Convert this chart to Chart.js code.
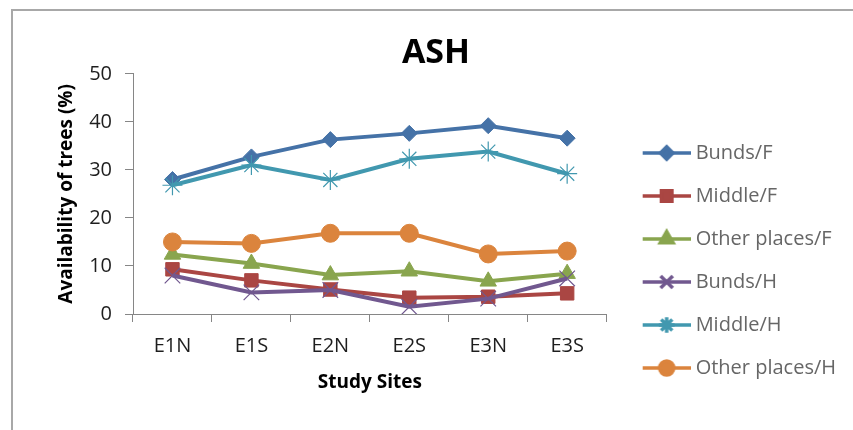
<!DOCTYPE html>
<html>
<head>
<meta charset="utf-8">
<script src="https://cdn.jsdelivr.net/npm/chart.js@4/dist/chart.umd.min.js"></script>
<style>
  html, body { margin: 0; padding: 0; background: #ffffff; overflow: hidden; }
  #wrap { position: relative; width: 853px; height: 430px; overflow: hidden; }
  #frame { position: absolute; left: 11px; top: 9px; width: 900px; height: 500px;
           border-left: 2px solid #a8a8a8; border-top: 2px solid #a8a8a8; }
  #chart { position: absolute; left: 0; top: 0; }
</style>
</head>
<body>
<div id="wrap">
  <div id="frame"></div>
  <canvas id="chart" width="853" height="430"></canvas>
</div>
<script>
// Study sites along the x axis
const sites = ['E1N', 'E1S', 'E2N', 'E2S', 'E3N', 'E3S'];

// Availability of trees (%) per site
const bundsF       = [28.0, 32.7, 36.3, 37.6, 39.2, 36.6];
const middleF      = [9.3, 7.0, 5.1, 3.4, 3.6, 4.3];
const otherPlacesF = [12.4, 10.5, 8.1, 8.9, 6.8, 8.4];
const bundsH       = [8.0, 4.5, 5.0, 1.5, 3.2, 7.4];
const middleH      = [26.8, 31.0, 27.9, 32.3, 33.8, 29.2];
const otherPlacesH = [15.0, 14.7, 16.8, 16.8, 12.5, 13.1];

const seriesNames = ['Bunds/F', 'Middle/F', 'Other places/F', 'Bunds/H', 'Middle/H', 'Other places/H'];
const seriesData = [bundsF, middleF, otherPlacesF, bundsH, middleH, otherPlacesH];

// y axis range
const yMin = 0, yMax = 50, yStep = 10;

const colors  = ['#4572A7', '#AA4643', '#89A54E', '#71588F', '#4198AF', '#DB843D'];
const markers = ['rectRot', 'rect', 'triangle', 'crossRot', 'star', 'circle'];
const radii   = [8, 9.5, 9.5, 11, 10, 9];
const markerBorder = [1, 1, 1, 1.2, 1.2, 1];

const FONT = '"Open Sans", "Liberation Sans", sans-serif';
const TEXT = '#1e1e1e';

// Legend icon: short line with the series marker in its middle
function legendIcon(i) {
  const c = document.createElement('canvas');
  c.width = 66; c.height = 24;
  const ctx = c.getContext('2d');
  ctx.strokeStyle = colors[i];
  ctx.lineWidth = 3.5;
  ctx.beginPath();
  ctx.moveTo(18, 12);
  ctx.lineTo(66, 12);
  ctx.stroke();
  ctx.fillStyle = colors[i];
  ctx.strokeStyle = colors[i];
  Chart.helpers.drawPoint(ctx, {
    pointStyle: markers[i], rotation: 0,
    radius: radii[i] * 0.78, borderWidth: markerBorder[i]
  }, 42, 12);
  return c;
}

function buildChart() {
  const datasets = seriesNames.map((name, i) => ({
    label: name,
    data: seriesData[i],
    borderColor: colors[i],
    backgroundColor: colors[i],
    borderWidth: 4,
    pointStyle: markers[i],
    pointRadius: radii[i],
    pointBorderWidth: markerBorder[i],
    pointBackgroundColor: colors[i],
    pointBorderColor: colors[i],
    tension: 0,
    // later series sit on top of earlier ones
    order: seriesNames.length - i
  }));

  new Chart(document.getElementById('chart'), {
    type: 'line',
    data: { labels: sites, datasets },
    options: {
      responsive: false,
      animation: false,
      events: [],
      layout: { padding: { left: 26, right: 7, top: 0, bottom: 0 } },
      plugins: {
        title: {
          display: true,
          text: 'ASH',
          color: '#000000',
          font: { family: FONT, size: 34, weight: 'bold' },
          padding: { top: 33, bottom: 0 }
        },
        legend: {
          display: true,
          position: 'right',
          align: 'start',
          maxWidth: 320,
          title: { display: true, text: '', font: { size: 10 }, padding: { top: 108, bottom: 0 } },
          labels: {
            usePointStyle: true,
            pointStyleWidth: 56,
            boxHeight: 20,
            padding: 23,
            color: TEXT,
            font: { family: FONT, size: 20 },
            generateLabels: () => seriesNames.map((name, i) => ({
              text: name,
              pointStyle: legendIcon(i),
              fillStyle: colors[i],
              strokeStyle: colors[i],
              lineWidth: 0,
              datasetIndex: i,
              hidden: false
            }))
          }
        },
        tooltip: { enabled: false }
      },
      scales: {
        x: {
          offset: true,
          afterFit: (s) => { s.height = 116; },
          grid: { offset: true, drawOnChartArea: false, drawTicks: true, tickLength: 8, color: '#868686' },
          border: { display: true, color: '#868686', width: 1 },
          ticks: { color: TEXT, padding: 12, font: { family: FONT, size: 20 } },
          title: {
            display: true, text: 'Study Sites', color: '#000000',
            font: { family: FONT, size: 19, weight: 'bold' },
            padding: { top: 0, bottom: 36 }
          }
        },
        y: {
          min: yMin, max: yMax,
          afterFit: (s) => { s.width = 107; },
          grid: { drawOnChartArea: false, drawTicks: true, tickLength: 8, color: '#868686' },
          border: { display: true, color: '#868686', width: 1 },
          ticks: { stepSize: yStep, color: TEXT, padding: 13, font: { family: FONT, size: 20 } },
          title: {
            display: true, text: 'Availability of trees (%)', color: '#000000',
            font: { family: FONT, size: 19, weight: 'bold' },
            padding: { top: 29, bottom: 0 }
          }
        }
      }
    }
  });
}

// make sure the text faces are ready before the chart measures its labels
Promise.all([
  document.fonts.load('20px "Open Sans"'),
  document.fonts.load('bold 20px "Open Sans"')
]).catch(() => {}).then(buildChart);
</script>
</body>
</html>
